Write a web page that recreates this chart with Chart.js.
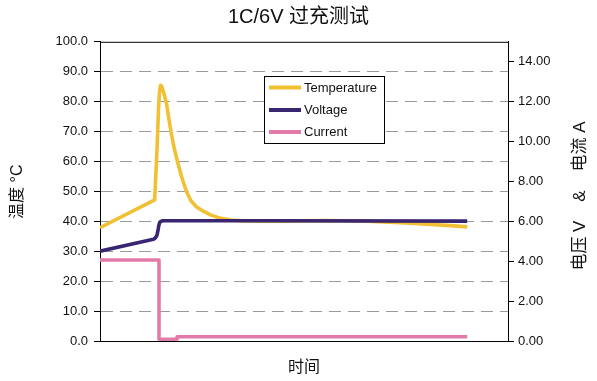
<!DOCTYPE html>
<html>
<head>
<meta charset="utf-8">
<script src="https://cdn.jsdelivr.net/npm/chart.js@4/dist/chart.umd.min.js"></script>
<style>
html,body{margin:0;padding:0;background:#fff;}
#wrap{width:597px;height:381px;position:relative;}
canvas{display:block;}
</style>
</head>
<body>
<div id="wrap"><canvas id="c" width="597" height="381"></canvas></div>
<script>
// ---- data (time axis is relative, 0..100) ----
const chartTitle = '1C/6V 过充测试';
const xTitle = '时间';
const leftTitle = '温度 °C';
const rightTitle = '电压 V    &    电流 A';
const seriesNames = ['Temperature', 'Voltage', 'Current'];

const tempX = [0, 13.4, 14.0, 14.35, 14.6, 14.85, 15.1, 15.4, 15.8, 16.3, 16.8, 17.4, 18.1, 19.0, 20.0, 21.2, 22.3, 23.6, 25.2, 27.2, 29.4, 32, 35, 45, 55, 65, 75, 85, 90];
const tempY = [38.0, 47.3, 65, 78, 83.5, 85.5, 85.2, 84, 82, 79.5, 75, 70, 65, 60, 55, 50, 47, 45, 43.6, 42.2, 41.2, 40.6, 40.3, 40.2, 40.4, 40.2, 39.6, 38.8, 38.3];

const voltX = [0, 13.1, 13.6, 13.95, 14.2, 14.4, 14.65, 15.0, 15.4, 40, 90];
const voltY = [4.53, 5.12, 5.2, 5.32, 5.55, 5.8, 5.97, 6.03, 6.05, 6.05, 6.03];

const currX = [0, 14.46, 14.46, 18.9, 18.9, 90];
const currY = [4.09, 4.09, 0.12, 0.12, 0.25, 0.25];

const leftTicks = [0, 10, 20, 30, 40, 50, 60, 70, 80, 90, 100];
const rightTicks = [0, 2, 4, 6, 8, 10, 12, 14];

const colors = ['#F2C033', '#3A2670', '#E27BAA'];

const pts = (xs, ys) => xs.map((x, i) => ({x: x, y: ys[i]}));

const FONT = "'Liberation Sans', Arial, sans-serif";
const CJK = "'Liberation Sans', 'Noto Sans CJK SC', sans-serif";

const extrasPlugin = {
  id: 'extras',
  afterDraw(chart) {
    const ctx = chart.ctx;
    const a = chart.chartArea;
    ctx.save();
    // top frame line
    ctx.strokeStyle = '#000';
    ctx.lineWidth = 1;
    ctx.beginPath();
    ctx.moveTo(a.left, a.top + 0.5);
    ctx.lineTo(a.right, a.top + 0.5);
    ctx.stroke();
    // legend box
    const bx = 264, by = 76, bw = 120, bh = 67;
    ctx.fillStyle = '#fff';
    ctx.fillRect(bx, by, bw, bh);
    ctx.strokeStyle = '#000';
    ctx.lineWidth = 1;
    ctx.strokeRect(bx + 0.5, by + 0.5, bw, bh);
    const rows = [87.5, 110, 132];
    ctx.font = '13px ' + FONT;
    ctx.textBaseline = 'middle';
    ctx.textAlign = 'left';
    chart.data.datasets.forEach((ds, i) => {
      ctx.strokeStyle = ds.borderColor;
      ctx.lineWidth = 4;
      ctx.beginPath();
      ctx.moveTo(269, rows[i]);
      ctx.lineTo(301, rows[i]);
      ctx.stroke();
      ctx.fillStyle = '#111';
      ctx.fillText(ds.label, 304, rows[i] + 0.5);
    });
    // right axis title, reading bottom to top
    ctx.translate(580, 196);
    ctx.rotate(-Math.PI / 2);
    ctx.font = '17px ' + CJK;
    ctx.textAlign = 'center';
    ctx.fillStyle = '#111';
    ctx.fillText(rightTitle, 0, 0);
    ctx.restore();
  }
};

new Chart(document.getElementById('c'), {
  type: 'line',
  data: {
    datasets: [
      {label: seriesNames[0], data: pts(tempX, tempY), borderColor: colors[0], yAxisID: 'y', order: 1, tension: 0},
      {label: seriesNames[1], data: pts(voltX, voltY), borderColor: colors[1], yAxisID: 'y1', order: 0, tension: 0},
      {label: seriesNames[2], data: pts(currX, currY), borderColor: colors[2], yAxisID: 'y1', order: 2, tension: 0}
    ]
  },
  options: {
    responsive: false,
    animation: false,
    devicePixelRatio: 1,
    elements: {
      point: {radius: 0, hoverRadius: 0},
      line: {borderWidth: 3.6, fill: false, borderCapStyle: 'butt', borderJoinStyle: 'round'}
    },
    layout: {padding: 0},
    plugins: {
      legend: {display: false},
      tooltip: {enabled: false},
      title: {
        display: true,
        text: chartTitle,
        color: '#111',
        font: {family: CJK, size: 20, weight: 'normal', lineHeight: 1.2},
        padding: {top: 5, bottom: 12.8}
      }
    },
    scales: {
      x: {
        type: 'linear',
        min: 0, max: 100,
        grid: {display: false},
        ticks: {display: false},
        border: {display: true, color: '#000', width: 1},
        title: {display: true, text: xTitle, color: '#111', font: {family: CJK, size: 16, lineHeight: 1.2}, padding: {top: 0, bottom: 4}},
        afterFit(s) { s.height = 39.3; }
      },
      y: {
        position: 'left',
        min: 0, max: 100,
        afterBuildTicks(s) { s.ticks = leftTicks.map(v => ({value: v})); },
        ticks: {
          callback: v => Number(v).toFixed(1),
          color: '#111',
          font: {family: FONT, size: 13},
          padding: 6
        },
        grid: {
          color: c => (c.tick && (c.tick.value === 0 || c.tick.value === 100)) ? 'rgba(0,0,0,0)' : '#9a9a9a',
          lineWidth: 1,
          tickLength: 6,
          tickColor: '#000',
          tickWidth: 1
        },
        border: {display: true, color: '#000', width: 1, dash: [12, 7]},
        title: {display: true, text: leftTitle, color: '#111', font: {family: CJK, size: 16, lineHeight: 1.2}, padding: {top: 8.4, bottom: 0}},
        afterFit(s) { s.width = 100; }
      },
      y1: {
        position: 'right',
        min: 0, max: 15,
        afterBuildTicks(s) { s.ticks = rightTicks.map(v => ({value: v})); },
        ticks: {
          callback: v => Number(v).toFixed(2),
          color: '#111',
          font: {family: FONT, size: 13},
          padding: 4
        },
        grid: {drawOnChartArea: false, tickLength: 6, tickColor: '#000', tickWidth: 1},
        border: {display: true, color: '#000', width: 1},
        afterFit(s) { s.width = 89; }
      }
    }
  },
  plugins: [extrasPlugin]
});
</script>
</body>
</html>
